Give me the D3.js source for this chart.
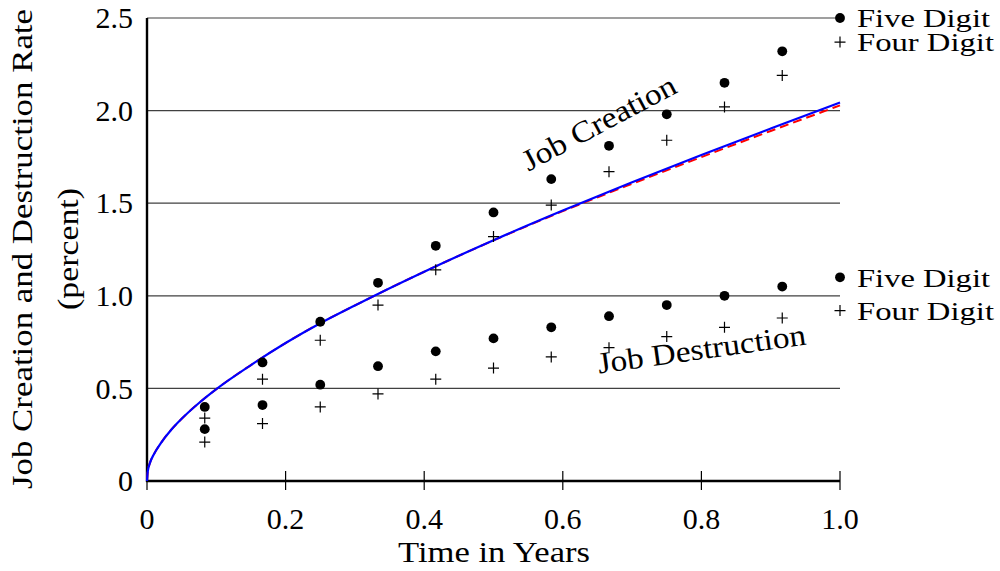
<!DOCTYPE html>
<html lang="en">
<head>
<meta charset="utf-8">
<title>Job Creation and Destruction</title>
<script src="https://d3js.org/d3.v7.min.js"></script>
<style>
  body { margin: 0; background: #fff; }
  svg text { font-family: "Liberation Serif", "Times New Roman", serif; fill: #000; }
  .tick-label { font-size: 30px; }
  .label { font-size: 30px; }
  .endlab { font-size: 26px; }
  .grid { stroke: #404040; stroke-width: 1.2; }
</style>
</head>
<body>
<script>
// observed rates, one point per month
var times = [1/12, 2/12, 3/12, 4/12, 5/12, 6/12, 7/12, 8/12, 9/12, 10/12, 11/12, 1];
var creationFive = [0.40, 0.64, 0.86, 1.07, 1.27, 1.45, 1.63, 1.81, 1.98, 2.15, 2.32, 2.50];
var creationFour = [0.34, 0.55, 0.76, 0.95, 1.14, 1.32, 1.49, 1.67, 1.84, 2.02, 2.19, 2.37];
var destructionFive = [0.28, 0.41, 0.52, 0.62, 0.70, 0.77, 0.83, 0.89, 0.95, 1.00, 1.05, 1.10];
var destructionFour = [0.21, 0.31, 0.40, 0.47, 0.55, 0.61, 0.67, 0.72, 0.78, 0.83, 0.88, 0.92];

// model curves (job creation)
var modelTimes = [0, 0.001, 0.004, 0.01, 0.02, 0.035, 0.05, 0.075, 0.1, 0.15, 0.2, 0.25, 0.3, 0.4, 0.5, 0.6, 0.7, 0.8, 0.9, 1.0];
var modelBlue = [0, 0.050, 0.095, 0.145, 0.205, 0.277, 0.336, 0.421, 0.496, 0.626, 0.745, 0.852, 0.948, 1.130, 1.300, 1.460, 1.613, 1.760, 1.903, 2.044];
var modelRed  = [0, 0.050, 0.095, 0.145, 0.205, 0.277, 0.336, 0.421, 0.496, 0.626, 0.745, 0.852, 0.948, 1.130, 1.299, 1.457, 1.605, 1.749, 1.890, 2.028];

var xTicks = [0, 0.2, 0.4, 0.6, 0.8, 1.0];
var yTicks = [0, 0.5, 1.0, 1.5, 2.0, 2.5];
var seriesNames = ["Five Digit", "Four Digit"];

var width = 1000, height = 571;

var x = d3.scaleLinear().domain([0, 1]).range([147, 840]);
var y = d3.scaleLinear().domain([0, 2.5]).range([481, 18]);

var svg = d3.select("body").append("svg")
  .attr("width", width)
  .attr("height", height);

// horizontal grid
svg.selectAll(".grid")
  .data(yTicks.slice(1))
  .enter().append("line")
  .attr("class", "grid")
  .attr("x1", x(0)).attr("x2", x(1))
  .attr("y1", function(d) { return y(d); })
  .attr("y2", function(d) { return y(d); });

// y tick labels
svg.selectAll(".ylab")
  .data(yTicks)
  .enter().append("text")
  .attr("class", "tick-label")
  .attr("x", 133)
  .attr("y", function(d) { return y(d); })
  .attr("dy", "0.34em")
  .style("text-anchor", "end")
  .text(function(d) { return d === 0 ? "0" : d3.format(".1f")(d); });

// x ticks cross the axis line
svg.selectAll(".xtick")
  .data(xTicks)
  .enter().append("line")
  .attr("x1", function(d) { return x(d); })
  .attr("x2", function(d) { return x(d); })
  .attr("y1", y(0) - 10)
  .attr("y2", y(0) + 9)
  .attr("stroke", "#000")
  .attr("stroke-width", 1.2);

svg.selectAll(".xlab")
  .data(xTicks)
  .enter().append("text")
  .attr("class", "tick-label")
  .attr("x", function(d) { return x(d); })
  .attr("y", 529)
  .style("text-anchor", "middle")
  .text(function(d) { return d === 0 ? "0" : d3.format(".1f")(d); });

// axis lines
svg.append("line")
  .attr("x1", x(0)).attr("x2", x(0))
  .attr("y1", y(2.5)).attr("y2", y(0) + 1)
  .attr("stroke", "#000").attr("stroke-width", 2.4);
svg.append("line")
  .attr("x1", x(0) - 1).attr("x2", x(1))
  .attr("y1", y(0)).attr("y2", y(0))
  .attr("stroke", "#000").attr("stroke-width", 2.4);

// model curves
var line = d3.line()
  .x(function(d) { return x(d[0]); })
  .y(function(d) { return y(d[1]); })
  .curve(d3.curveMonotoneX);

svg.append("path")
  .datum(d3.zip(modelTimes, modelRed))
  .attr("d", line)
  .attr("fill", "none")
  .attr("stroke", "#ff0000")
  .attr("stroke-width", 2)
  .attr("stroke-dasharray", "9,5");

svg.append("path")
  .datum(d3.zip(modelTimes, modelBlue))
  .attr("d", line)
  .attr("fill", "none")
  .attr("stroke", "#0000ff")
  .attr("stroke-width", 2.2);

// markers
function dots(values) {
  svg.append("g").selectAll("circle")
    .data(d3.zip(times, values))
    .enter().append("circle")
    .attr("cx", function(d) { return x(d[0]); })
    .attr("cy", function(d) { return y(d[1]); })
    .attr("r", 4.9)
    .attr("fill", "#000");
}
function plusses(values) {
  svg.append("g").selectAll("path")
    .data(d3.zip(times, values))
    .enter().append("path")
    .attr("d", function(d) {
      var cx = x(d[0]), cy = y(d[1]), s = 5.5;
      return "M" + (cx - s) + "," + cy + "H" + (cx + s) + "M" + cx + "," + (cy - s) + "V" + (cy + s);
    })
    .attr("stroke", "#000")
    .attr("stroke-width", 1.2)
    .attr("fill", "none");
}
dots(creationFive);
plusses(creationFour);
dots(destructionFive);
plusses(destructionFour);

// names next to the last point of each series
var ends = [
  [seriesNames[0], creationFive[11]],
  [seriesNames[1], creationFour[11]],
  [seriesNames[0], destructionFive[11]],
  [seriesNames[1], destructionFour[11]]
];
svg.selectAll(".endlab")
  .data(ends)
  .enter().append("text")
  .attr("class", "endlab")
  .attr("x", 857)
  .attr("y", function(d) { return y(d[1]); })
  .attr("dy", "0.36em")
  .attr("textLength", function(d) { return d[0] === "Five Digit" ? 133 : 137; })
  .attr("lengthAdjust", "spacingAndGlyphs")
  .text(function(d) { return d[0]; });

// curve labels
svg.append("text")
  .attr("class", "label")
  .attr("transform", "translate(599,123) rotate(-28)")
  .attr("dy", "0.33em")
  .attr("textLength", 170)
  .attr("lengthAdjust", "spacingAndGlyphs")
  .style("text-anchor", "middle")
  .text("Job Creation");

svg.append("text")
  .attr("class", "label")
  .attr("transform", "translate(703,359) rotate(-8)")
  .attr("textLength", 210)
  .attr("lengthAdjust", "spacingAndGlyphs")
  .style("text-anchor", "middle")
  .text("Job Destruction");

// axis titles
svg.append("text")
  .attr("class", "label")
  .attr("x", 494)
  .attr("y", 562)
  .attr("textLength", 192)
  .attr("lengthAdjust", "spacingAndGlyphs")
  .style("text-anchor", "middle")
  .text("Time in Years");

svg.append("text")
  .attr("class", "label")
  .attr("transform", "translate(32,249) rotate(-90)")
  .attr("textLength", 480)
  .attr("lengthAdjust", "spacingAndGlyphs")
  .style("text-anchor", "middle")
  .text("Job Creation and Destruction Rate");

svg.append("text")
  .attr("class", "label")
  .attr("transform", "translate(78,249) rotate(-90)")
  .attr("textLength", 122)
  .attr("lengthAdjust", "spacingAndGlyphs")
  .style("text-anchor", "middle")
  .text("(percent)");
</script>
</body>
</html>
